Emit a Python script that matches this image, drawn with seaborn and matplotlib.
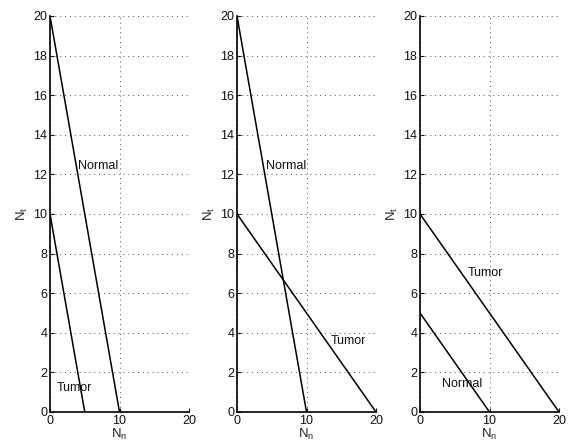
import numpy as np
import pandas as pd
import matplotlib
matplotlib.use("Agg")
import matplotlib.pyplot as plt
import seaborn as sns

# line endpoints (Nn, Nt) per panel
panel1_normal_x = [0, 10]
panel1_normal_y = [20, 0]
panel1_tumor_x = [0, 5]
panel1_tumor_y = [10, 0]

panel2_normal_x = [0, 10]
panel2_normal_y = [20, 0]
panel2_tumor_x = [0, 20]
panel2_tumor_y = [10, 0]

panel3_tumor_x = [0, 20]
panel3_tumor_y = [10, 0]
panel3_normal_x = [0, 10]
panel3_normal_y = [5, 0]

panels = [
    [(panel1_normal_x, panel1_normal_y, "Normal", (4.0, 12.4)),
     (panel1_tumor_x, panel1_tumor_y, "Tumor", (1.0, 1.2))],
    [(panel2_normal_x, panel2_normal_y, "Normal", (4.2, 12.4)),
     (panel2_tumor_x, panel2_tumor_y, "Tumor", (13.5, 3.6))],
    [(panel3_tumor_x, panel3_tumor_y, "Tumor", (6.9, 7.0)),
     (panel3_normal_x, panel3_normal_y, "Normal", (3.2, 1.4))],
]

sns.set_style("white")
plt.rcParams['font.family'] = ['Liberation Sans', 'DejaVu Sans']

fig = plt.figure(figsize=(5.69, 4.47), dpi=100)
lefts = [50, 237, 420]
for i, lines in enumerate(panels):
    ax = fig.add_axes([lefts[i] / 569, 35 / 447, 139 / 569, 396 / 447])
    for xs, ys, name, (tx, ty) in lines:
        df = pd.DataFrame({"Nn": xs, "Nt": ys})
        sns.lineplot(data=df, x="Nn", y="Nt", ax=ax, color="black", linewidth=1.1)
        ax.text(tx, ty, name, fontsize=9, va="center", ha="left", color="#111111")
    ax.set_xlim(0, 20)
    ax.set_ylim(0, 20)
    ax.set_xticks([0, 10, 20])
    ax.set_yticks(np.arange(0, 21, 2))
    ax.grid(True, linestyle=(0, (1, 4)), color="black", linewidth=0.7, alpha=0.7)
    for s in ["top", "right"]:
        ax.spines[s].set_visible(False)
    for s in ["left", "bottom"]:
        ax.spines[s].set_color("black")
        ax.spines[s].set_linewidth(1.2)
    ax.tick_params(direction="in", length=3, width=0.8, labelsize=9, pad=2,
                   left=True, bottom=True, colors="#111111")
    ax.set_xlabel(r"N$_\mathregular{n}$", fontsize=9.5, labelpad=0)
    ax.set_ylabel(r"N$_\mathregular{t}$", fontsize=9.5, labelpad=2)

fig.savefig("out.png", dpi=100)
